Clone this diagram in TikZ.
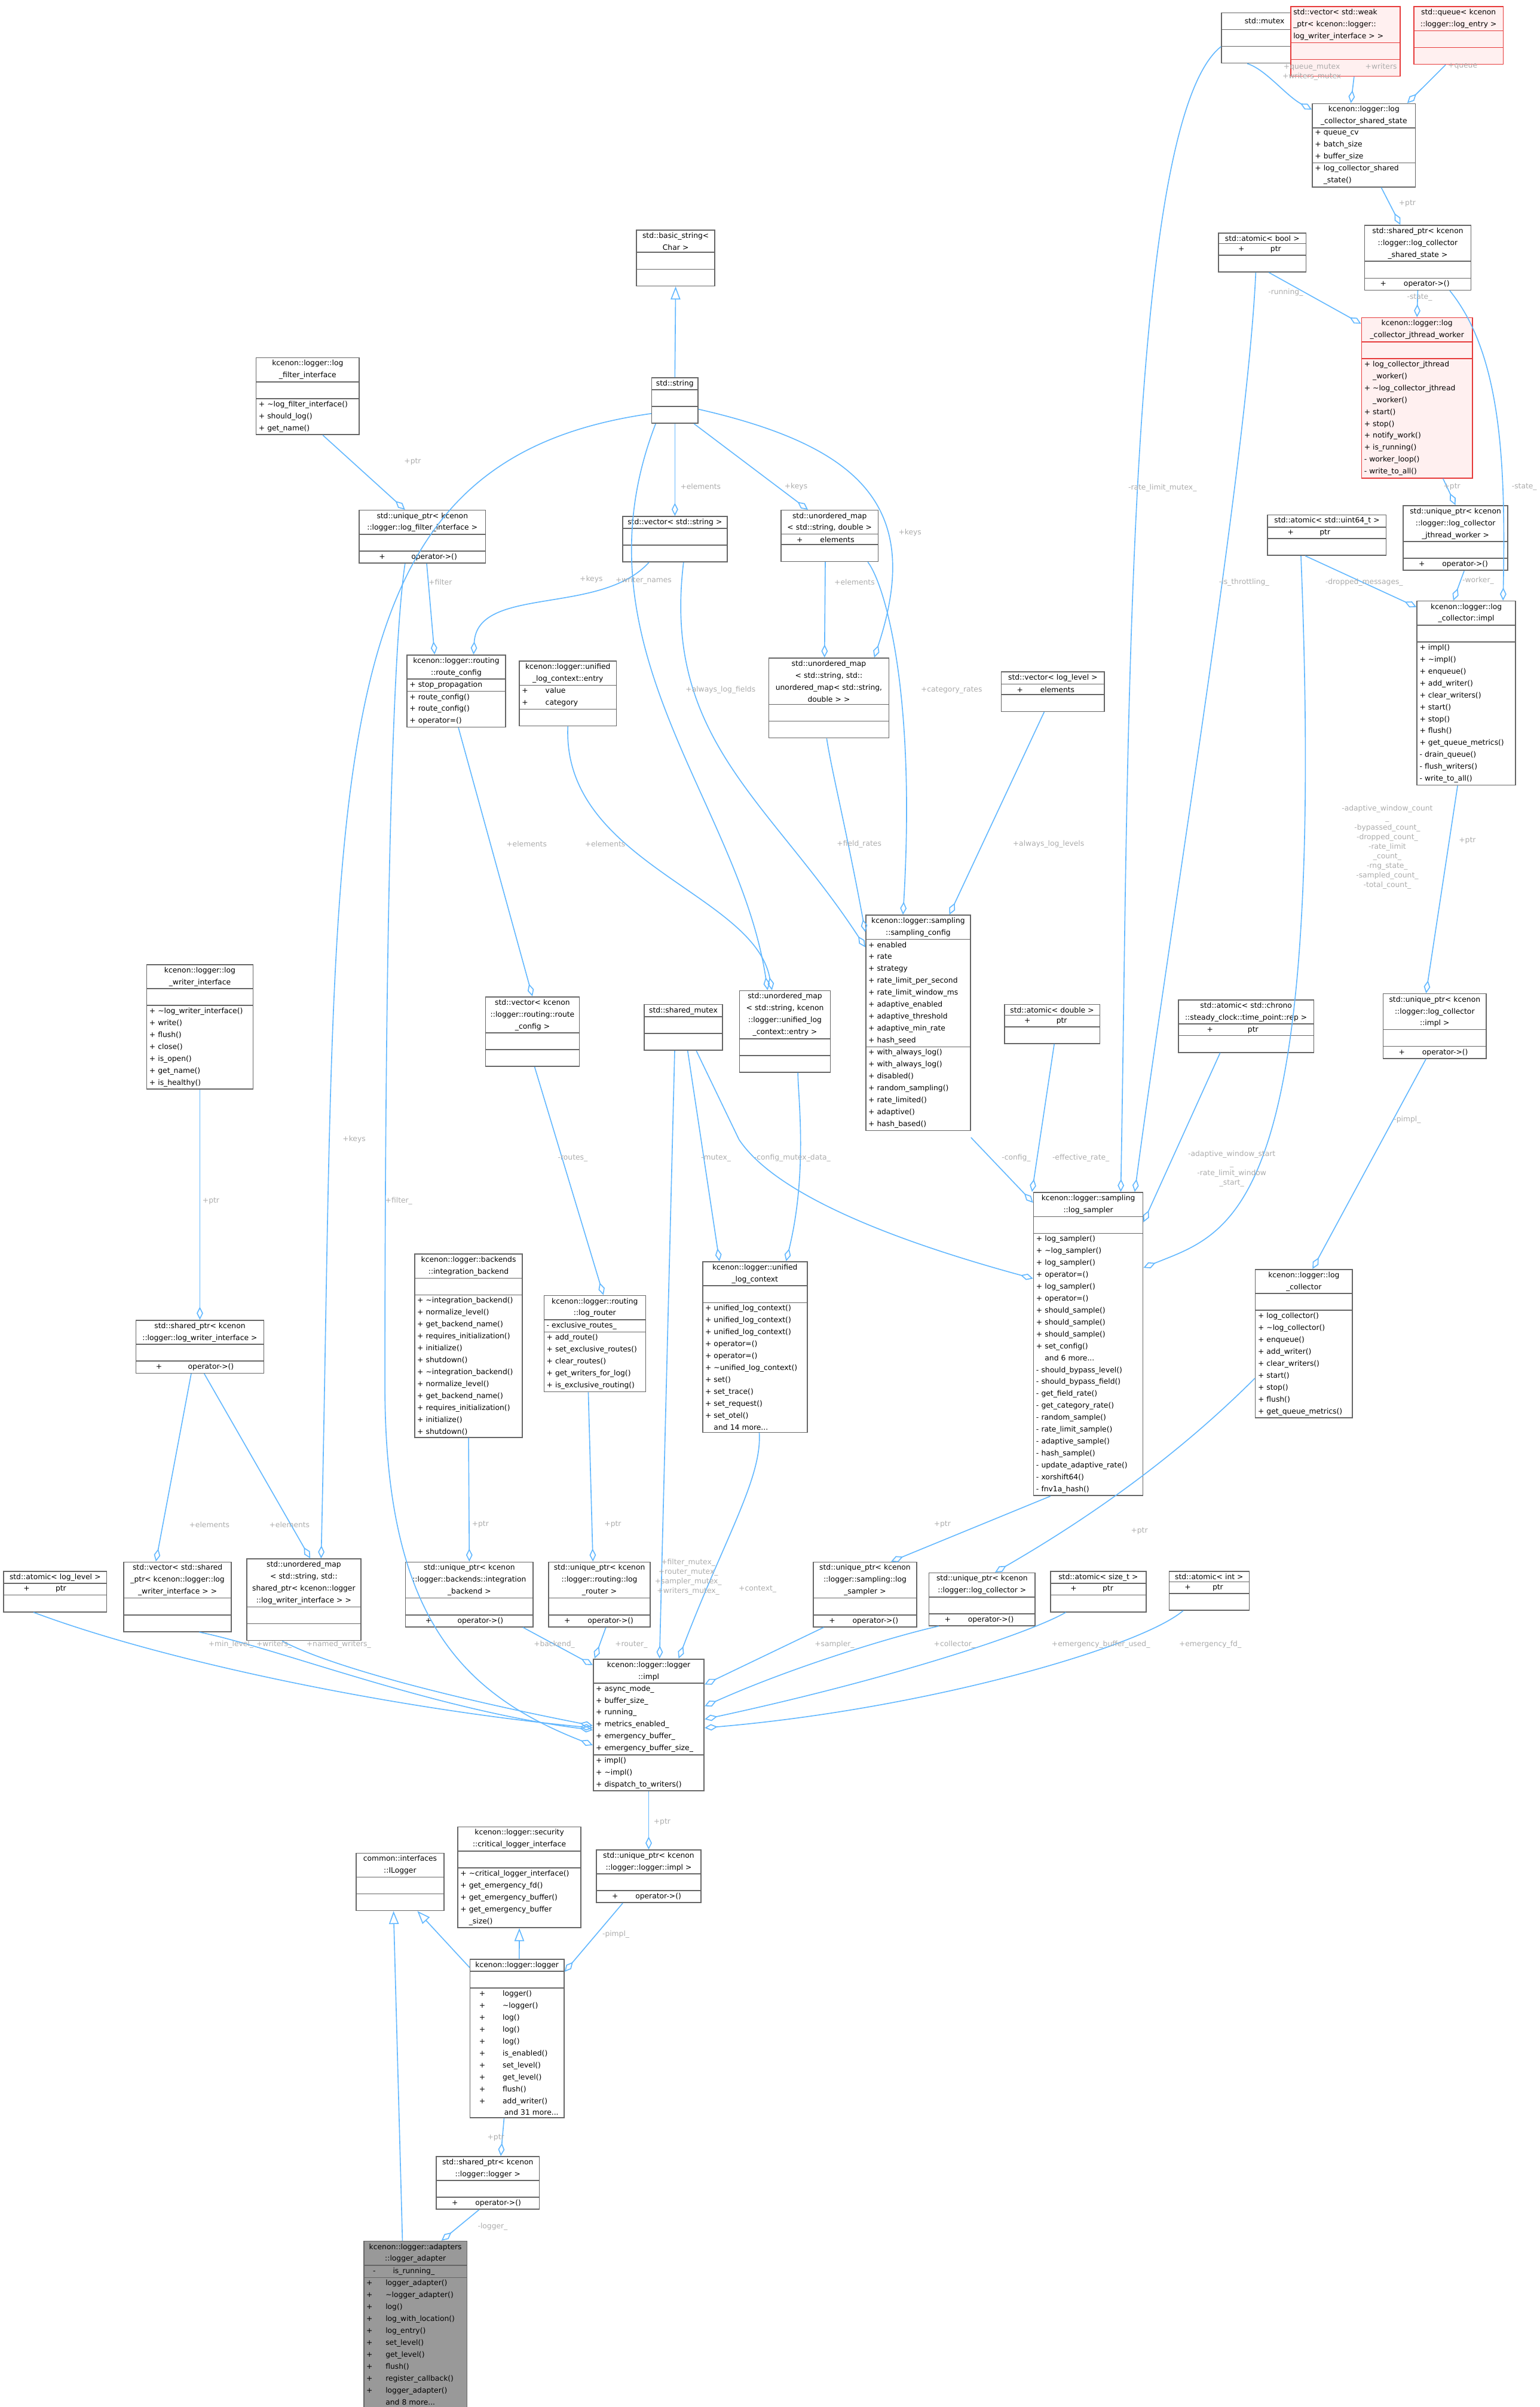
\documentclass[tikz,border=0pt]{standalone}
\usepackage{fontspec}
\setmainfont{DejaVu Sans}
\usetikzlibrary{shapes.multipart,arrows.meta,positioning}
\definecolor{linkblue}{HTML}{63B8FF}
\definecolor{labgray}{HTML}{ABABAB}
\definecolor{boxgray}{HTML}{666666}
\definecolor{redline}{HTML}{E63A3A}
\definecolor{redfill}{HTML}{FFF0F0}
\def\tl{\textasciitilde}

\tikzset{
  cls/.style={draw=boxgray, fill=white, rectangle split, rectangle split parts=3,
    anchor=north west, inner xsep=1.2pt, inner ysep=0.9pt, align=left,
    font={\fontsize{3.4}{5.5}\selectfont\hyphenpenalty10000\exhyphenpenalty10000},
    text width={#1*0.025cm-2.4pt}, line width=0.45pt},
  redcls/.style={cls=#1, draw=redline, fill=redfill},
  graycls/.style={cls=#1, fill=gray!80},
  lbl/.style={text=labgray, font=\fontsize{3.4}{4.4}\selectfont, align=center, inner sep=0.5pt},
  agg/.style={draw=linkblue, line width=0.45pt, {Diamond[open,length=6pt,width=3pt]}-},
  inh/.style={draw=linkblue, line width=0.45pt, {Triangle[open,length=6pt,width=4.5pt]}-}
}

\begin{document}
\begin{tikzpicture}[x=0.025cm, y=-0.025cm]
  \useasboundingbox (0,0) rectangle (1000,1563);

  % top right cluster
  \node[cls=56] (mutex) at (793,8) {\centering\strut std::mutex\par \nodepart{two}\strut \nodepart{three}\strut};
  \node[redcls=71] (weakvec) at (838,4) {\raggedright std::vector< std::weak\par\_ptr< kcenon::logger::\par log\_writer\_interface > >\par \nodepart{two}\strut \nodepart{three}\strut};
  \node[redcls=58] (queue) at (918,4) {\centering std::queue< kcenon\par::logger::log\_entry >\par \nodepart{two}\strut \nodepart{three}\strut};
  \node[cls=67] (sstate) at (852,67) {\centering kcenon::logger::log\par\_collector\_shared\_state\par
    \nodepart{two}+ queue\_cv\\+ batch\_size\\+ buffer\_size
    \nodepart{three}+ log\_collector\_shared\\\phantom{+ }\_state()};
  \node[cls=69] (spstate) at (886,146) {\centering std::shared\_ptr< kcenon\par::logger::log\_collector\par\_shared\_state >\par \nodepart{two}\strut \nodepart{three}\hspace{6pt}+\hspace{8pt}operator->()};
  \node[cls=57] (abool) at (791,151) {\centering std::atomic< bool >\par \nodepart{two}\hspace{8pt}+\hspace{12pt}ptr \nodepart{three}\strut};
  \node[redcls=72] (jworker) at (884,206) {\centering kcenon::logger::log\par\_collector\_jthread\_worker\par
    \nodepart{two}\strut
    \nodepart{three}+ log\_collector\_jthread\\\phantom{+ }\_worker()\\+ \tl log\_collector\_jthread\\\phantom{+ }\_worker()\\+ start()\\+ stop()\\+ notify\_work()\\+ is\_running()\\- worker\_loop()\\- write\_to\_all()};
  \node[cls=68] (ujworker) at (911,328) {\centering std::unique\_ptr< kcenon\par::logger::log\_collector\par\_jthread\_worker >\par \nodepart{two}\strut \nodepart{three}\hspace{6pt}+\hspace{8pt}operator->()};
  \node[cls=77] (au64) at (823,334) {\centering std::atomic< std::uint64\_t >\par \nodepart{two}\hspace{8pt}+\hspace{12pt}ptr \nodepart{three}\strut};
  \node[cls=64] (lcimpl) at (920,390) {\centering kcenon::logger::log\par\_collector::impl\par
    \nodepart{two}\strut
    \nodepart{three}+ impl()\\+ \tl impl()\\+ enqueue()\\+ add\_writer()\\+ clear\_writers()\\+ start()\\+ stop()\\+ flush()\\+ get\_queue\_metrics()\\- drain\_queue()\\- flush\_writers()\\- write\_to\_all()};

  % strings and maps
  \node[cls=51] (bstring) at (413,149) {\centering std::basic\_string<\par Char >\par \nodepart{two}\strut \nodepart{three}\strut};
  \node[cls=30] (string) at (423,245) {\centering std::string\par \nodepart{two}\strut \nodepart{three}\strut};
  \node[cls=67] (filteri) at (166,232) {\centering kcenon::logger::log\par\_filter\_interface\par \nodepart{two}\strut
    \nodepart{three}+ \tl log\_filter\_interface()\\+ should\_log()\\+ get\_name()};
  \node[cls=82] (ufilter) at (233,331) {\centering std::unique\_ptr< kcenon\par::logger::log\_filter\_interface >\par \nodepart{two}\strut \nodepart{three}\hspace{8pt}+\hspace{12pt}operator->()};
  \node[cls=68] (vstring) at (404,335) {\centering std::vector< std::string >\par \nodepart{two}\strut \nodepart{three}\strut};
  \node[cls=63] (umsd) at (507,331) {\centering std::unordered\_map\par< std::string, double >\par \nodepart{two}\hspace{6pt}+\hspace{8pt}elements \nodepart{three}\strut};
  \node[cls=64] (rconf) at (264,425) {\centering kcenon::logger::routing\par::route\_config\par
    \nodepart{two}+ stop\_propagation
    \nodepart{three}+ route\_config()\\+ route\_config()\\+ operator=()};
  \node[cls=63] (entry) at (337,429) {\centering kcenon::logger::unified\par\_log\_context::entry\par
    \nodepart{two}+\hspace{8pt}value\\+\hspace{8pt}category \nodepart{three}\strut};
  \node[cls=78] (umsum) at (499,427) {\centering std::unordered\_map\par< std::string, std::\par unordered\_map< std::string,\par double > >\par \nodepart{two}\strut \nodepart{three}\strut};
  \node[cls=67] (vlevel) at (650,436) {\centering std::vector< log\_level >\par \nodepart{two}\hspace{6pt}+\hspace{8pt}elements \nodepart{three}\strut};
  \node[cls=68] (sconf) at (562,594) {\centering kcenon::logger::sampling\par::sampling\_config\par
    \nodepart{two}+ enabled\\+ rate\\+ strategy\\+ rate\_limit\_per\_second\\+ rate\_limit\_window\_ms\\+ adaptive\_enabled\\+ adaptive\_threshold\\+ adaptive\_min\_rate\\+ hash\_seed
    \nodepart{three}+ with\_always\_log()\\+ with\_always\_log()\\+ disabled()\\+ random\_sampling()\\+ rate\_limited()\\+ adaptive()\\+ hash\_based()};
  \node[cls=69] (lwi) at (95,626) {\centering kcenon::logger::log\par\_writer\_interface\par \nodepart{two}\strut
    \nodepart{three}+ \tl log\_writer\_interface()\\+ write()\\+ flush()\\+ close()\\+ is\_open()\\+ get\_name()\\+ is\_healthy()};
  \node[cls=61] (vrconf) at (315,647) {\centering std::vector< kcenon\par::logger::routing::route\par\_config >\par \nodepart{two}\strut \nodepart{three}\strut};
  \node[cls=59] (umentry) at (480,643) {\centering std::unordered\_map\par< std::string, kcenon\par::logger::unified\_log\par\_context::entry >\par \nodepart{two}\strut \nodepart{three}\strut};
  \node[cls=51] (smutex) at (418,652) {\centering std::shared\_mutex\par \nodepart{two}\strut \nodepart{three}\strut};
  \node[cls=62] (adouble) at (652,652) {\centering std::atomic< double >\par \nodepart{two}\hspace{8pt}+\hspace{12pt}ptr \nodepart{three}\strut};
  \node[cls=88] (atp) at (765,649) {\centering std::atomic< std::chrono\par::steady\_clock::time\_point::rep >\par \nodepart{two}\hspace{12pt}+\hspace{16pt}ptr \nodepart{three}\strut};
  \node[cls=67] (ulcimpl) at (898,645) {\centering std::unique\_ptr< kcenon\par::logger::log\_collector\par::impl >\par \nodepart{two}\strut \nodepart{three}\hspace{6pt}+\hspace{8pt}operator->()};

  % middle row
  \node[cls=71] (sampler) at (671,774) {\centering kcenon::logger::sampling\par::log\_sampler\par
    \nodepart{two}\strut
    \nodepart{three}+ log\_sampler()\\+ \tl log\_sampler()\\+ log\_sampler()\\+ operator=()\\+ log\_sampler()\\+ operator=()\\+ should\_sample()\\+ should\_sample()\\+ should\_sample()\\+ set\_config()\\\phantom{+ }and 6 more...\\- should\_bypass\_level()\\- should\_bypass\_field()\\- get\_field\_rate()\\- get\_category\_rate()\\- random\_sample()\\- rate\_limit\_sample()\\- adaptive\_sample()\\- hash\_sample()\\- update\_adaptive\_rate()\\- xorshift64()\\- fnv1a\_hash()};
  \node[cls=70] (backend) at (269,814) {\centering kcenon::logger::backends\par::integration\_backend\par
    \nodepart{two}\strut
    \nodepart{three}+ \tl integration\_backend()\\+ normalize\_level()\\+ get\_backend\_name()\\+ requires\_initialization()\\+ initialize()\\+ shutdown()\\+ \tl integration\_backend()\\+ normalize\_level()\\+ get\_backend\_name()\\+ requires\_initialization()\\+ initialize()\\+ shutdown()};
  \node[cls=66] (router) at (353,841) {\centering kcenon::logger::routing\par::log\_router\par
    \nodepart{two}- exclusive\_routes\_
    \nodepart{three}+ add\_route()\\+ set\_exclusive\_routes()\\+ clear\_routes()\\+ get\_writers\_for\_log()\\+ is\_exclusive\_routing()};
  \node[cls=68] (uctx) at (456,819) {\centering kcenon::logger::unified\par\_log\_context\par
    \nodepart{two}\strut
    \nodepart{three}+ unified\_log\_context()\\+ unified\_log\_context()\\+ unified\_log\_context()\\+ operator=()\\+ operator=()\\+ \tl unified\_log\_context()\\+ set()\\+ set\_trace()\\+ set\_request()\\+ set\_otel()\\\phantom{+ }and 14 more...};
  \node[cls=63] (lcoll) at (815,824) {\centering kcenon::logger::log\par\_collector\par
    \nodepart{two}\strut
    \nodepart{three}+ log\_collector()\\+ \tl log\_collector()\\+ enqueue()\\+ add\_writer()\\+ clear\_writers()\\+ start()\\+ stop()\\+ flush()\\+ get\_queue\_metrics()};
  \node[cls=83] (spwriter) at (88,857) {\centering std::shared\_ptr< kcenon\par::logger::log\_writer\_interface >\par \nodepart{two}\strut \nodepart{three}\hspace{8pt}+\hspace{12pt}operator->()};

  % row above logger::impl
  \node[cls=67] (alevel) at (2,1020) {\centering std::atomic< log\_level >\par \nodepart{two}\hspace{8pt}+\hspace{12pt}ptr \nodepart{three}\strut};
  \node[cls=70] (vspw) at (80,1014) {\centering std::vector< std::shared\par\_ptr< kcenon::logger::log\par\_writer\_interface > >\par \nodepart{two}\strut \nodepart{three}\strut};
  \node[cls=74] (umnamed) at (160,1012) {\centering std::unordered\_map\par< std::string, std::\par shared\_ptr< kcenon::logger\par::log\_writer\_interface > >\par \nodepart{two}\strut \nodepart{three}\strut};
  \node[cls=83] (ubackend) at (263,1014) {\centering std::unique\_ptr< kcenon\par::logger::backends::integration\par\_backend >\par \nodepart{two}\strut \nodepart{three}\hspace{8pt}+\hspace{12pt}operator->()};
  \node[cls=66] (urouter) at (356,1014) {\centering std::unique\_ptr< kcenon\par::logger::routing::log\par\_router >\par \nodepart{two}\strut \nodepart{three}\hspace{6pt}+\hspace{8pt}operator->()};
  \node[cls=67] (usampler) at (528,1014) {\centering std::unique\_ptr< kcenon\par::logger::sampling::log\par\_sampler >\par \nodepart{two}\strut \nodepart{three}\hspace{6pt}+\hspace{8pt}operator->()};
  \node[cls=69] (ucoll) at (603,1021) {\centering std::unique\_ptr< kcenon\par::logger::log\_collector >\par \nodepart{two}\strut \nodepart{three}\hspace{6pt}+\hspace{8pt}operator->()};
  \node[cls=62] (asize) at (682,1020) {\centering std::atomic< size\_t >\par \nodepart{two}\hspace{8pt}+\hspace{12pt}ptr \nodepart{three}\strut};
  \node[cls=52] (aint) at (759,1020) {\centering std::atomic< int >\par \nodepart{two}\hspace{6pt}+\hspace{10pt}ptr \nodepart{three}\strut};
  \node[cls=72] (limpl) at (385,1077) {\centering kcenon::logger::logger\par::impl\par
    \nodepart{two}+ async\_mode\_\\+ buffer\_size\_\\+ running\_\\+ metrics\_enabled\_\\+ emergency\_buffer\_\\+ emergency\_buffer\_size\_
    \nodepart{three}+ impl()\\+ \tl impl()\\+ dispatch\_to\_writers()};

  % bottom
  \node[cls=57] (ilogger) at (231,1203) {\centering common::interfaces\par::ILogger\par \nodepart{two}\strut \nodepart{three}\strut};
  \node[cls=80] (crit) at (297,1186) {\centering kcenon::logger::security\par::critical\_logger\_interface\par \nodepart{two}\strut
    \nodepart{three}+ \tl critical\_logger\_interface()\\+ get\_emergency\_fd()\\+ get\_emergency\_buffer()\\+ get\_emergency\_buffer\\\phantom{+ }\_size()};
  \node[cls=68] (ulimpl) at (387,1201) {\centering std::unique\_ptr< kcenon\par::logger::logger::impl >\par \nodepart{two}\strut \nodepart{three}\hspace{6pt}+\hspace{8pt}operator->()};
  \node[cls=61] (logger) at (305,1272) {\centering kcenon::logger::logger\par \nodepart{two}\strut
    \nodepart{three}\hspace{3pt}+\hspace{8pt}logger()\\\hspace{3pt}+\hspace{8pt}\tl logger()\\\hspace{3pt}+\hspace{8pt}log()\\\hspace{3pt}+\hspace{8pt}log()\\\hspace{3pt}+\hspace{8pt}log()\\\hspace{3pt}+\hspace{8pt}is\_enabled()\\\hspace{3pt}+\hspace{8pt}set\_level()\\\hspace{3pt}+\hspace{8pt}get\_level()\\\hspace{3pt}+\hspace{8pt}flush()\\\hspace{3pt}+\hspace{8pt}add\_writer()\\\hspace{14.6pt}and 31 more...};
  \node[cls=67] (splogger) at (283,1400) {\centering std::shared\_ptr< kcenon\par::logger::logger >\par \nodepart{two}\strut \nodepart{three}\hspace{6pt}+\hspace{8pt}operator->()};
  \node[graycls=67] (adapter) at (236,1455) {\centering kcenon::logger::adapters\par::logger\_adapter\par
    \nodepart{two}\hspace{3pt}-\hspace{8pt}is\_running\_
    \nodepart{three}+\hspace{6pt}logger\_adapter()\\+\hspace{6pt}\tl logger\_adapter()\\+\hspace{6pt}log()\\+\hspace{6pt}log\_with\_location()\\+\hspace{6pt}log\_entry()\\+\hspace{6pt}set\_level()\\+\hspace{6pt}get\_level()\\+\hspace{6pt}flush()\\+\hspace{6pt}register\_callback()\\+\hspace{6pt}logger\_adapter()\\\phantom{+}\hspace{6pt}and 8 more...};

  % connectors, top right
  \draw[agg] ([yshift=-3pt]sstate.north west) .. controls (835,62) and (822,45) .. ([xshift=-8pt]mutex.south);
  \draw[agg] ([xshift=-6pt]sstate.north) -- ([xshift=4pt]weakvec.south);
  \draw[agg] ([xshift=20pt]sstate.north) -- ([xshift=-6pt]queue.south);
  \draw[agg] ([xshift=-8pt]spstate.north) -- ([xshift=8pt]sstate.south);
  \draw[agg] (jworker.north) -- (spstate.south);
  \draw[agg] ([xshift=-6pt]lcimpl.north east) .. controls (978,300) and (975,230) .. ([xshift=-10pt]spstate.south east);
  \draw[agg] ([yshift=-3pt]jworker.north west) -- ([xshift=3pt]abool.south);
  \draw[agg] ([xshift=-4pt]sampler.north east) .. controls (760,600) and (810,300) .. ([xshift=-3pt]abool.south);
  \draw[agg] ([xshift=15pt]sampler.north) .. controls (733,500) and (730,80) .. ([yshift=-4pt]mutex.west);
  \draw[agg] (ujworker.north) -- ([xshift=12pt]jworker.south);
  \draw[agg] ([xshift=-6pt]lcimpl.north) -- ([xshift=4pt]ujworker.south);
  \draw[agg] ([yshift=-3pt]lcimpl.north west) -- ([xshift=-10pt]au64.south);
  \draw[agg] ([yshift=-35pt]sampler.north east) .. controls (800,800) and (862,790) .. ([xshift=-12pt]au64.south);
  \draw[agg] ([xshift=-4pt]ulcimpl.north) -- ([xshift=-4pt]lcimpl.south);
  \draw[agg] ([xshift=4pt]lcoll.north) -- ([xshift=-4pt]ulcimpl.south);
  \draw[agg] ([xshift=6pt]ucoll.north) .. controls (700,990) and (760,950) .. ([yshift=-16pt]lcoll.west);

  % strings
  \draw[inh] (bstring.south) -- (string.north);
  \draw[agg] (vstring.north) -- (string.south);
  \draw[agg] ([xshift=-10pt]umsd.north) -- ([xshift=-2pt]string.south east);
  \draw[agg] ([xshift=-7pt]umsum.north east) .. controls (600,330) and (560,290) .. ([yshift=-4pt]string.east);
  \draw[agg] ([xshift=-8pt]umentry.north) .. controls (480,520) and (370,420) .. ([xshift=2pt]string.south west);
  \draw[agg] ([yshift=-15pt]sconf.north west) .. controls (500,520) and (430,480) .. ([xshift=4pt]vstring.south);
  \draw[agg] ([xshift=8pt]rconf.north) .. controls (310,380) and (390,400) .. ([xshift=-12pt]vstring.south);
  \draw[agg] ([xshift=8pt]umnamed.north) .. controls (220,500) and (200,300) .. ([yshift=-6pt]string.west);
  \draw[agg] ([xshift=-8pt]ufilter.north) -- ([xshift=7pt]filteri.south);
  \draw[agg] ([xshift=-10pt]rconf.north) -- ([xshift=2pt]ufilter.south);
  \draw[agg] ([yshift=-40pt]limpl.north west) .. controls (300,1100) and (250,1050) .. (250,900) .. controls (250,600) and (255,420) .. ([xshift=-8pt]ufilter.south);
  \draw[agg] ([xshift=-2pt]umsum.north) -- ([xshift=-2pt]umsd.south);
  \draw[agg] ([xshift=-7pt]sconf.north) .. controls (595,450) and (575,380) .. ([xshift=-5pt]umsd.south east);
  \draw[agg] ([yshift=-8pt]sconf.north west) .. controls (550,540) and (540,500) .. ([xshift=-1pt]umsum.south);
  \draw[agg] ([xshift=-10pt]sconf.north east) -- ([xshift=-4pt]vlevel.south);
  \draw[agg] (vrconf.north) -- ([xshift=1pt]rconf.south);
  \draw[agg] ([xshift=-6pt]umentry.north) .. controls (490,580) and (365,560) .. (entry.south);

  % middle
  \draw[agg] ([yshift=-5pt]sampler.north west) -- ([yshift=-3pt]sconf.south east);
  \draw[agg] ([yshift=-40pt]sampler.north west) .. controls (560,800) and (500,770) .. (480,740) -- ([xshift=6pt]smutex.south);
  \draw[agg] ([xshift=8pt]uctx.north west) -- ([xshift=2pt]smutex.south);
  \draw[agg] ([xshift=-10pt]uctx.north east) .. controls (525,760) and (518,710) .. ([xshift=6pt]umentry.south);
  \draw[agg] ([xshift=-26pt]sampler.north) -- ([xshift=1pt]adouble.south);
  \draw[agg] ([yshift=-14pt]sampler.north east) -- ([xshift=-12pt]atp.south);
  \draw[agg] (spwriter.north) -- (lwi.south);
  \draw[agg] ([xshift=4pt]router.north) -- ([xshift=1pt]vrconf.south);
  \draw[agg] ([xshift=-10pt]vspw.north) -- ([xshift=-4pt]spwriter.south);
  \draw[agg] ([xshift=3pt]umnamed.north) -- ([xshift=2pt]spwriter.south);
  \draw[agg] (ubackend.north) -- (backend.south);
  \draw[agg] ([xshift=-3pt]urouter.north) -- ([xshift=-3pt]router.south);
  \draw[agg] ([xshift=-12pt]limpl.north east) .. controls (470,1000) and (495,960) .. ([xshift=2pt]uctx.south);
  \draw[agg] ([xshift=12pt]usampler.north) -- ([xshift=8pt]sampler.south west);

  % into logger::impl
  \draw[agg] ([yshift=-32pt]limpl.north west) .. controls (260,1110) and (110,1080) .. ([xshift=-10pt]alevel.south);
  \draw[agg] ([yshift=-33pt]limpl.north west) .. controls (280,1110) and (180,1070) .. ([xshift=10pt]vspw.south);
  \draw[agg] ([yshift=-31pt]limpl.north west) .. controls (280,1100) and (210,1080) .. ([xshift=-10pt]umnamed.south);
  \draw[agg] ([yshift=-3pt]limpl.north west) -- ([xshift=-5pt]ubackend.south east);
  \draw[agg] ([xshift=-25pt]limpl.north) -- ([xshift=3pt]urouter.south);
  \draw[agg] ([xshift=5pt]limpl.north) -- ([xshift=-4pt]smutex.south);
  \draw[agg] ([yshift=-12pt]limpl.north east) -- ([xshift=5pt]usampler.south west);
  \draw[agg] ([yshift=-22pt]limpl.north east) .. controls (520,1080) and (590,1060) .. ([xshift=-20pt]ucoll.south);
  \draw[agg] ([yshift=-28pt]limpl.north east) .. controls (580,1090) and (670,1060) .. ([xshift=-15pt]asize.south);
  \draw[agg] ([yshift=-32pt]limpl.north east) .. controls (600,1110) and (740,1070) .. ([xshift=-12pt]aint.south);

  % bottom
  \draw[agg] (ulimpl.north) -- (limpl.south);
  \draw[agg] ([yshift=-6pt]logger.north east) -- ([xshift=-12pt]ulimpl.south);
  \draw[inh] ([xshift=8pt]ilogger.south) -- ([yshift=-4pt]logger.north west);
  \draw[inh] (crit.south) -- ([xshift=1pt]logger.north);
  \draw[agg] ([xshift=6pt]splogger.north) -- ([xshift=-6pt]logger.south);
  \draw[agg] ([xshift=12pt]adapter.north) -- ([xshift=-4pt]splogger.south);
  \draw[inh] ([xshift=-3pt]ilogger.south) -- ([xshift=-6pt]adapter.north);

  % labels
  \node[lbl] (l1) at (852,47) {+queue\_mutex\\+writers\_mutex};
  \node[lbl] (l2) at (897,43) {+writers};
  \node[lbl] (l3) at (950,43) {+queue};
  \node[lbl] (l4) at (914,132) {+ptr};
  \node[lbl] (l5) at (922,193) {-state\_};
  \node[lbl] (l6) at (990,316) {-state\_};
  \node[lbl] (l7) at (835,190) {-running\_};
  \node[lbl] (l8) at (808,378) {-is\_throttling\_};
  \node[lbl] (l9) at (755,317) {-rate\_limit\_mutex\_};
  \node[lbl] (l10) at (943,316) {+ptr};
  \node[lbl] (l11) at (960,377) {-worker\_};
  \node[lbl] (l12) at (886,378) {-dropped\_messages\_};
  \node[lbl] (l13) at (901,550) {-adaptive\_window\_count\\\_\\-bypassed\_count\_\\-dropped\_count\_\\-rate\_limit\\\_count\_\\-rng\_state\_\\-sampled\_count\_\\-total\_count\_};
  \node[lbl] (l14) at (953,546) {+ptr};
  \node[lbl] (l15) at (914,727) {-pimpl\_};
  \node[lbl] (l16) at (740,994) {+ptr};
  \node[lbl] (l18) at (455,316) {+elements};
  \node[lbl] (l19) at (517,316) {+keys};
  \node[lbl] (l20) at (591,346) {+keys};
  \node[lbl] (l21) at (384,376) {+keys};
  \node[lbl] (l22) at (468,448) {+always\_log\_fields};
  \node[lbl] (l23) at (418,377) {+writer\_names};
  \node[lbl] (l24) at (230,740) {+keys};
  \node[lbl] (l25) at (268,300) {+ptr};
  \node[lbl] (l26) at (286,378) {+filter};
  \node[lbl] (l27) at (259,780) {+filter\_};
  \node[lbl] (l28) at (555,378) {+elements};
  \node[lbl] (l29) at (618,448) {+category\_rates};
  \node[lbl] (l30) at (558,548) {+field\_rates};
  \node[lbl] (l31) at (681,548) {+always\_log\_levels};
  \node[lbl] (l32) at (342,548) {+elements};
  \node[lbl] (l33) at (393,548) {+elements};
  \node[lbl] (l34) at (660,752) {-config\_};
  \node[lbl] (l35) at (508,752) {-config\_mutex\_};
  \node[lbl] (l36) at (465,752) {-mutex\_};
  \node[lbl] (l37) at (447,1024) {+filter\_mutex\_\\+router\_mutex\_\\+sampler\_mutex\_\\+writers\_mutex\_};
  \node[lbl] (l38) at (532,752) {-data\_};
  \node[lbl] (l39) at (702,752) {-effective\_rate\_};
  \node[lbl] (l40) at (800,759) {-adaptive\_window\_start\\\_\\-rate\_limit\_window\\\_start\_};
  \node[lbl] (l41) at (137,780) {+ptr};
  \node[lbl] (l42) at (372,752) {-routes\_};
  \node[lbl] (l43) at (136,990) {+elements};
  \node[lbl] (l44) at (188,990) {+elements};
  \node[lbl] (l45) at (312,990) {+ptr};
  \node[lbl] (l46) at (398,990) {+ptr};
  \node[lbl] (l47) at (492,1032) {+context\_};
  \node[lbl] (l48) at (612,990) {+ptr};
  \node[lbl] (l49) at (150,1068) {+min\_level\_};
  \node[lbl] (l50) at (178,1068) {+writers\_};
  \node[lbl] (l51) at (220,1068) {+named\_writers\_};
  \node[lbl] (l52) at (360,1068) {+backend\_};
  \node[lbl] (l53) at (410,1068) {+router\_};
  \node[lbl] (l54) at (542,1068) {+sampler\_};
  \node[lbl] (l55) at (620,1068) {+collector\_};
  \node[lbl] (l56) at (715,1068) {+emergency\_buffer\_used\_};
  \node[lbl] (l57) at (786,1068) {+emergency\_fd\_};
  \node[lbl] (l58) at (430,1183) {+ptr};
  \node[lbl] (l59) at (400,1256) {-pimpl\_};
  \node[lbl] (l61) at (322,1388) {+ptr};
  \node[lbl] (l62) at (320,1446) {-logger\_};
\end{tikzpicture}
\end{document}
